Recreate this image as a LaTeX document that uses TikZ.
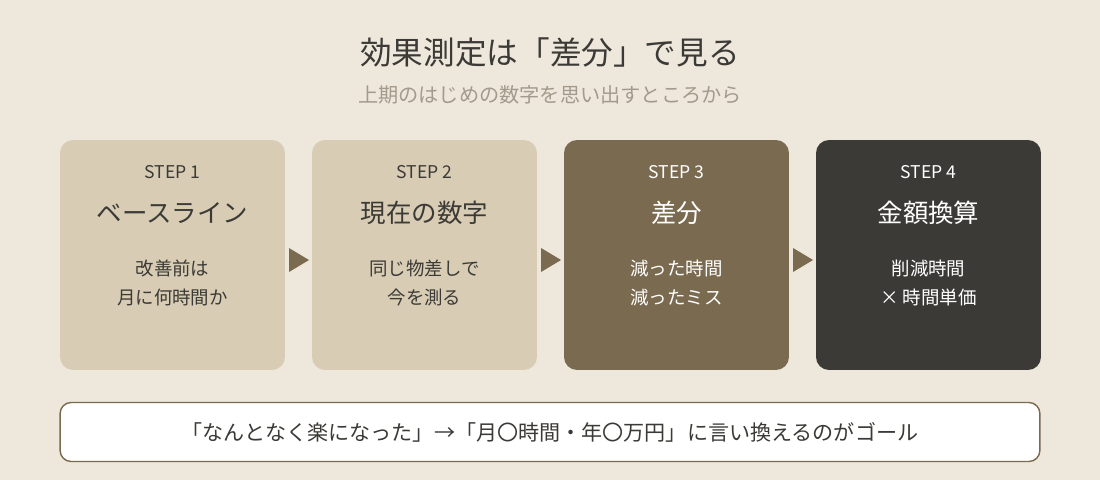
\documentclass[tikz,border=0pt]{standalone}
\usepackage{fontspec}
\setmainfont{Noto Sans CJK JP}
\usetikzlibrary{positioning}
\definecolor{bgcol}{HTML}{EEE7DB}
\definecolor{sand}{HTML}{D8CCB4}
\definecolor{umber}{HTML}{7A6A50}
\definecolor{coal}{HTML}{3B3A36}
\definecolor{ink}{HTML}{3B3A36}
\definecolor{mute}{HTML}{A39A8B}
\begin{document}
\begin{tikzpicture}
[x=0.02cm, y=-0.02cm, text=ink,
stepbox/.style={rectangle, rounded corners=2.6mm, minimum width=4.5cm, minimum height=4.6cm, inner sep=0pt},
steplbl/.style={font=\fontsize{10}{12}\selectfont},
stephead/.style={font=\fontsize{14.5}{17}\selectfont},
stepbody/.style={font=\fontsize{10.5}{17}\selectfont, align=center},
tri/.style={fill=umber}]

\fill[bgcol] (0,0) rectangle (1100,480);

\node[font=\fontsize{18}{22}\selectfont] (title) at (550,52) {効果測定は「差分」で見る};
\node[font=\fontsize{11.5}{14}\selectfont, text=mute] (sub) at (550,95) {上期のはじめの数字を思い出すところから};

\node[stepbox, fill=sand] (s1) at (172.5,255) {};
\node[stepbox, fill=sand] (s2) at (424.5,255) {};
\node[stepbox, fill=umber] (s3) at (676.5,255) {};
\node[stepbox, fill=coal] (s4) at (928.5,255) {};

\node[steplbl] at (172.5,172) {STEP 1};
\node[stephead] at (172.5,213) {ベースライン};
\node[stepbody] at (172.5,283) {改善前は\\月に何時間か};

\node[steplbl] at (424.5,172) {STEP 2};
\node[stephead] at (424.5,213) {現在の数字};
\node[stepbody] at (424.5,283) {同じ物差しで\\今を測る};

\node[steplbl, text=white] at (676.5,172) {STEP 3};
\node[stephead, text=white] at (676.5,213) {差分};
\node[stepbody, text=white] at (676.5,283) {減った時間\\減ったミス};

\node[steplbl, text=white] at (928.5,172) {STEP 4};
\node[stephead, text=white] at (928.5,213) {金額換算};
\node[stepbody, text=white] at (928.5,283) {削減時間\\× 時間単価};

% arrows between steps
\foreach \x in {289,541,793}
  \fill[tri] (\x,248) -- (\x+20,260) -- (\x,272) -- cycle;

\node[rectangle, rounded corners=2.2mm, draw=umber, line width=0.8pt, fill=white,
  minimum width=19.6cm, minimum height=1.18cm, font=\fontsize{12}{14}\selectfont] (goal) at (550,432)
  {「なんとなく楽になった」→「月〇時間・年〇万円」に言い換えるのがゴール};
\end{tikzpicture}
\end{document}
